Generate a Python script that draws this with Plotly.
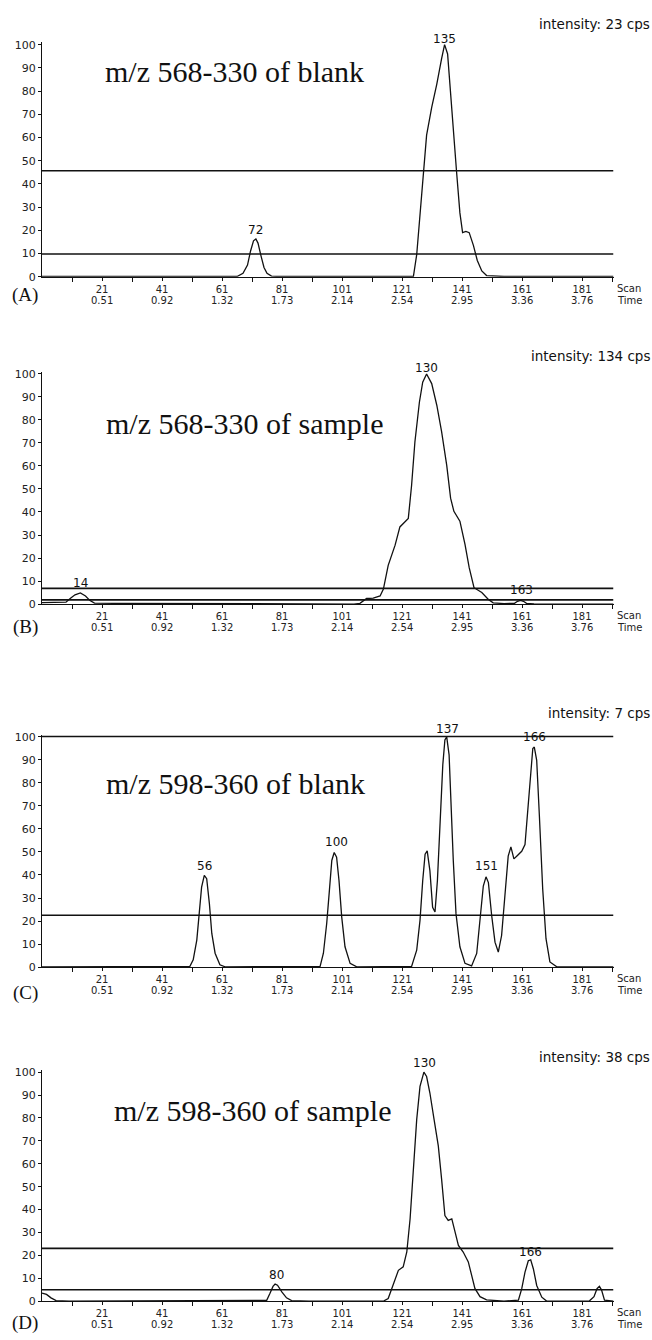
import plotly.graph_objects as go

# ---------------- data ----------------
scan_ticks = [21, 41, 61, 81, 101, 121, 141, 161, 181]
scan_tick_text = ["21", "41", "61", "81", "101", "121", "141", "161", "181"]
time_tick_text = ["0.51", "0.92", "1.32", "1.73", "2.14", "2.54", "2.95", "3.36", "3.76"]
minor_ticks = [11, 31, 51, 71, 91, 111, 131, 151, 171, 191]
y_ticks = [0, 10, 20, 30, 40, 50, 60, 70, 80, 90, 100]

# (A) m/z 568-330 of blank
scan_a = [1, 10, 20, 30, 40, 50, 60, 66, 68, 69.5, 70.5, 71.5, 72.3, 73, 74, 75, 76, 77.5, 80, 90,
          100, 110, 120, 124.8, 125.9, 127, 128.1, 129.2, 130.9, 132.6, 134.2, 135.2, 136.2, 137, 138.1,
          139.2, 140.3, 141.2, 142.3, 143.4, 144.8, 146.1, 147.6, 149.2, 155, 165, 175, 185, 191.5]
int_a = [0.1, 0.1, 0.1, 0.1, 0.1, 0.1, 0.1, 0.1, 1.5, 5, 11, 15.5, 16.3, 14.5, 9, 4, 1.5, 0.3, 0.1, 0.1,
         0.1, 0.1, 0.1, 0.1, 9.5, 27, 46.5, 61, 73, 83, 94, 100, 96, 81.5, 60.5,
         45, 27.5, 19, 19.5, 19, 13.5, 7, 2.5, 0.5, 0.1, 0.1, 0.1, 0.1, 0.1]
thr_a = [45.7, 9.8]
peak_lbl_a = ["72", "135"]
peak_x_a = [72, 135.3]
peak_y_a = [20.2, 102.6]

# (B) m/z 568-330 of sample
scan_b = [1, 5, 9, 10.5, 12, 13.8, 15.5, 17, 18.5, 25, 40, 60, 80, 95, 105, 107, 109.2, 111.4, 113.7,
          114.8, 116.4, 118.7, 120.3, 123.1, 124.2, 125.3, 126.8, 127.9, 129.2, 130.9, 132.6, 134.2,
          135.9, 137.2, 138.3, 140.3, 142, 143.4, 145, 147.6, 149.8, 151.4, 155, 158.5, 159.5, 160.5,
          161.5, 162.5, 165, 175, 185, 191.5]
int_b = [0.6, 0.6, 0.8, 2.5, 4, 4.8, 3.5, 1.5, 0.4, 0.3, 0.2, 0.1, 0, 0, 0, 0.3, 2.4, 2.6, 3.5,
         6.5, 16.8, 25.6, 33.5, 37.2, 51.6, 70.4, 87.7, 96.4, 100, 95.8, 86.4, 74.9,
         60.4, 46, 40.3, 36, 25.9, 15.8, 7.1, 5, 2, 0.5, 0.2, 0.3, 1.2, 1.6,
         1.2, 0.3, 0.1, 0, 0, 0]
thr_b = [6.8, 1.8]
peak_lbl_b = ["14", "130", "163"]
peak_x_b = [13.8, 129.3, 160.7]
peak_y_b = [9.0, 102.7, 5.9]

# (C) m/z 598-360 of blank
scan_c = [1, 20, 40, 48, 50.3, 51.4, 52.6, 53.4, 54.2, 55.1, 55.9, 56.8, 57.6, 58.7, 60.3, 62, 70, 85,
          92, 93.7, 94.8, 95.9, 96.8, 97.6, 98.4, 99.2, 100, 100.9, 102, 103.7, 105.9, 115, 122, 124.2,
          125.9, 127, 127.9, 128.7, 129.4, 130.3, 131.2, 132, 132.8, 133.7, 134.6, 135.3, 135.9, 136.7,
          137.3, 138.1, 139, 140.3, 142, 144.2, 145.9, 147, 148.1, 149, 149.8, 150.9, 152, 153.1, 154.2,
          155.3, 156.4, 157.3, 158.3, 159.4, 160.9, 162, 162.8, 163.7, 164.6, 165.1, 165.9, 166.8,
          167.9, 169, 170.3, 172.6, 180, 191.5]
int_c = [0.1, 0.1, 0.1, 0.1, 0.3, 3.1, 11.7, 23.2, 34.7, 39.8, 38.4, 27.5, 14.6, 6, 1, 0.1, 0.1, 0.1,
         0.1, 0.3, 6, 18.9, 33.3, 46.3, 49.8, 47.7, 37.6, 21.8, 8.8, 1.6, 0.1, 0.1, 0.1, 0.3,
         7.3, 20.3, 37.5, 49, 50.5, 41.9, 26, 23.9, 37.5, 63.4, 87.9, 98.7, 100, 92.2,
         70.6, 46.2, 23.2, 8.8, 1.6, 0.5, 5.9, 20.3, 35.2, 39.2, 36.7, 22.3, 10.8, 6.5, 13.7,
         31, 48.2, 52.2, 47, 48.4, 50.3, 53.2, 65.5, 79.9, 95, 95.6, 89.8, 65.5,
         33.9, 12.3, 2.2, 0.1, 0.1, 0.1]
thr_c = [100.2, 22.5]
peak_lbl_c = ["56", "100", "137", "151", "166"]
peak_x_c = [55.3, 99.2, 136.0, 149.0, 165.1]
peak_y_c = [44.0, 54.4, 103.3, 43.7, 100.0]

# (D) m/z 598-360 of sample
scan_d = [1, 2.5, 4, 5.7, 10, 20, 40, 60, 70, 75.9, 77, 78, 78.7, 79.5, 81, 82.5, 84.2, 90, 100, 110,
          115, 116.4, 117.6, 118.7, 119.8, 121.4, 122.6, 123.7, 124.8, 125.9, 127, 128.3, 129.2, 130.3,
          131.7, 133.1, 134.2, 135.3, 136.4, 137.6, 138.7, 139.8, 141.4, 143.1, 144.2, 145.3, 147,
          149.2, 155, 159.8, 160.9, 162, 163.1, 163.9, 164.8, 165.9, 167.6, 169.2, 175, 183.5, 185,
          186, 186.8, 187.5, 188.5, 191.5]
int_d = [3.6, 3, 1.5, 0.3, 0.1, 0.1, 0.1, 0.1, 0.1, 0.4, 3.5, 6.5, 7.5, 7, 4, 1.5, 0.3, 0.1, 0.1, 0.1,
         0.2, 1.2, 5.5, 10, 13.5, 15, 21.5, 36, 57.6, 79.3, 93.8, 100, 98.1, 90.9,
         79.3, 67.8, 53.3, 37.4, 35.3, 36, 30.2, 24.4, 21.5, 17.2, 11.4, 5.6, 2,
         0.6, 0.1, 0.5, 5.4, 12.7, 17.7, 18.1, 14.1, 6.9, 1.8, 0.1, 0.1, 0.2, 2,
         5.5, 6.5, 5, 0.5, 0.1]
thr_d = [23.1, 5.0]
peak_lbl_d = ["80", "130", "166"]
peak_x_d = [79.0, 128.4, 163.7]
peak_y_d = [11.4, 103.9, 21.3]

titles = ["m/z 568-330 of blank", "m/z 568-330 of sample",
          "m/z 598-360 of blank", "m/z 598-360 of sample"]
intensity_text = ["intensity: 23 cps", "intensity: 134 cps",
                  "intensity: 7 cps", "intensity: 38 cps"]
panel_tags = ["(A)", "(B)", "(C)", "(D)"]

# ---------------- layout geometry (pixels of a 652 x 1340 page) ----------------
W, H = 652, 1340
X_RANGE = [1, 191.5]
Y_TOP = 101
x_dom = [42 / W, 613.5 / W]
# (y pixel of value 0, pixels per unit)
panel_geom = [(275, 2.34), (605, 2.32), (971, 2.32), (1308, 2.31)]
title_pos = [(21.2, 88.6), (21.8, 78.3), (21.8, 79.8), (24.2, 83.1)]
intensity_y = [20.5, 355, 715, 1061.5]
tag_y = [293, 628, 997, 1330]

panels = [
    (scan_a, int_a, thr_a, peak_lbl_a, peak_x_a, peak_y_a),
    (scan_b, int_b, thr_b, peak_lbl_b, peak_x_b, peak_y_b),
    (scan_c, int_c, thr_c, peak_lbl_c, peak_x_c, peak_y_c),
    (scan_d, int_d, thr_d, peak_lbl_d, peak_x_d, peak_y_d),
]

SANS = "DejaVu Sans"
SERIF = "Liberation Serif"
INK = "#111111"
GREY = "#222222"

fig = go.Figure()
layout = dict(width=W, height=H, margin=dict(l=0, r=0, t=0, b=0),
              paper_bgcolor="white", plot_bgcolor="white", showlegend=False)
annotations = []

for i, (sc, iv, thr, plbl, px_, py_) in enumerate(panels):
    n = "" if i == 0 else str(i + 1)
    xa, ya = "x" + n, "y" + n
    y0, k = panel_geom[i]
    top = y0 - k * Y_TOP
    y_dom = [1 - y0 / H, 1 - top / H]

    layout["xaxis" + n] = dict(
        domain=x_dom, range=X_RANGE, anchor=ya, showline=True, linecolor=INK, linewidth=1.3,
        showgrid=False, zeroline=False, ticks="outside", ticklen=3, tickwidth=1, tickcolor=INK,
        tickvals=scan_ticks, ticktext=scan_tick_text,
        tickfont=dict(family=SANS, size=10, color=GREY),
        minor=dict(tickvals=minor_ticks, ticks="outside", ticklen=4, tickcolor=INK, tickwidth=1),
    )
    layout["yaxis" + n] = dict(
        domain=y_dom, range=[0, Y_TOP], anchor=xa, showline=True, linecolor=INK, linewidth=1.3,
        showgrid=False, zeroline=False, ticks="outside", ticklen=3, tickwidth=1, tickcolor=INK,
        tickvals=y_ticks, tickfont=dict(family=SANS, size=11, color=GREY),
    )

    # chromatogram trace
    fig.add_trace(go.Scatter(x=sc, y=iv, mode="lines", xaxis=xa, yaxis=ya,
                             line=dict(color=INK, width=1.3), hoverinfo="skip"))
    # threshold lines
    for t in thr:
        fig.add_trace(go.Scatter(x=X_RANGE, y=[t, t], mode="lines", xaxis=xa, yaxis=ya,
                                 line=dict(color=INK, width=1.6), hoverinfo="skip"))
    # peak labels (scan number of the apex); labels above the range are shifted from the top
    for lx, ly, lt in zip(px_, py_, plbl):
        ya_anchor = min(ly, 100)
        annotations.append(dict(x=lx, y=ya_anchor, xref=xa, yref=ya, text=lt, showarrow=False,
                                xanchor="center", yanchor="middle", yshift=(ly - ya_anchor) * k,
                                font=dict(family=SANS, size=12, color=INK)))

    # time labels under scan labels
    for tv, tt in zip(scan_ticks, time_tick_text):
        annotations.append(dict(x=tv, y=0, xref=xa, yref=ya, text=tt, showarrow=False,
                                xanchor="center", yanchor="top", yshift=-16,
                                font=dict(family=SANS, size=10, color=GREY)))
    annotations.append(dict(x=615 / W, y=0, xref="paper", yref=ya, text="Scan", showarrow=False,
                            xanchor="left", yanchor="top", yshift=-4,
                            font=dict(family=SANS, size=10, color=GREY)))
    annotations.append(dict(x=615 / W, y=0, xref="paper", yref=ya, text="Time", showarrow=False,
                            xanchor="left", yanchor="top", yshift=-16,
                            font=dict(family=SANS, size=10, color=GREY)))
    # panel title
    tx, ty = title_pos[i]
    annotations.append(dict(x=tx, y=ty, xref=xa, yref=ya, text=titles[i], showarrow=False,
                            xanchor="left", yanchor="middle",
                            font=dict(family=SERIF, size=30, color=INK)))
    # intensity
    annotations.append(dict(x=1.0, y=1 - intensity_y[i] / H, xref="paper", yref="paper",
                            text=intensity_text[i], showarrow=False, xanchor="right",
                            yanchor="middle", font=dict(family=SANS, size=13.5, color=INK)))
    # panel tag
    annotations.append(dict(x=40 / W, y=1 - tag_y[i] / H, xref="paper", yref="paper",
                            text=panel_tags[i], showarrow=False, xanchor="right",
                            yanchor="middle", font=dict(family=SERIF, size=19, color=INK)))

layout["annotations"] = annotations
fig.update_layout(**layout)
fig.write_html("out.html", config={"displayModeBar": False},
               post_script="document.body.style.margin='0';document.body.style.padding='0';"
                           "document.documentElement.style.overflow='hidden';")
